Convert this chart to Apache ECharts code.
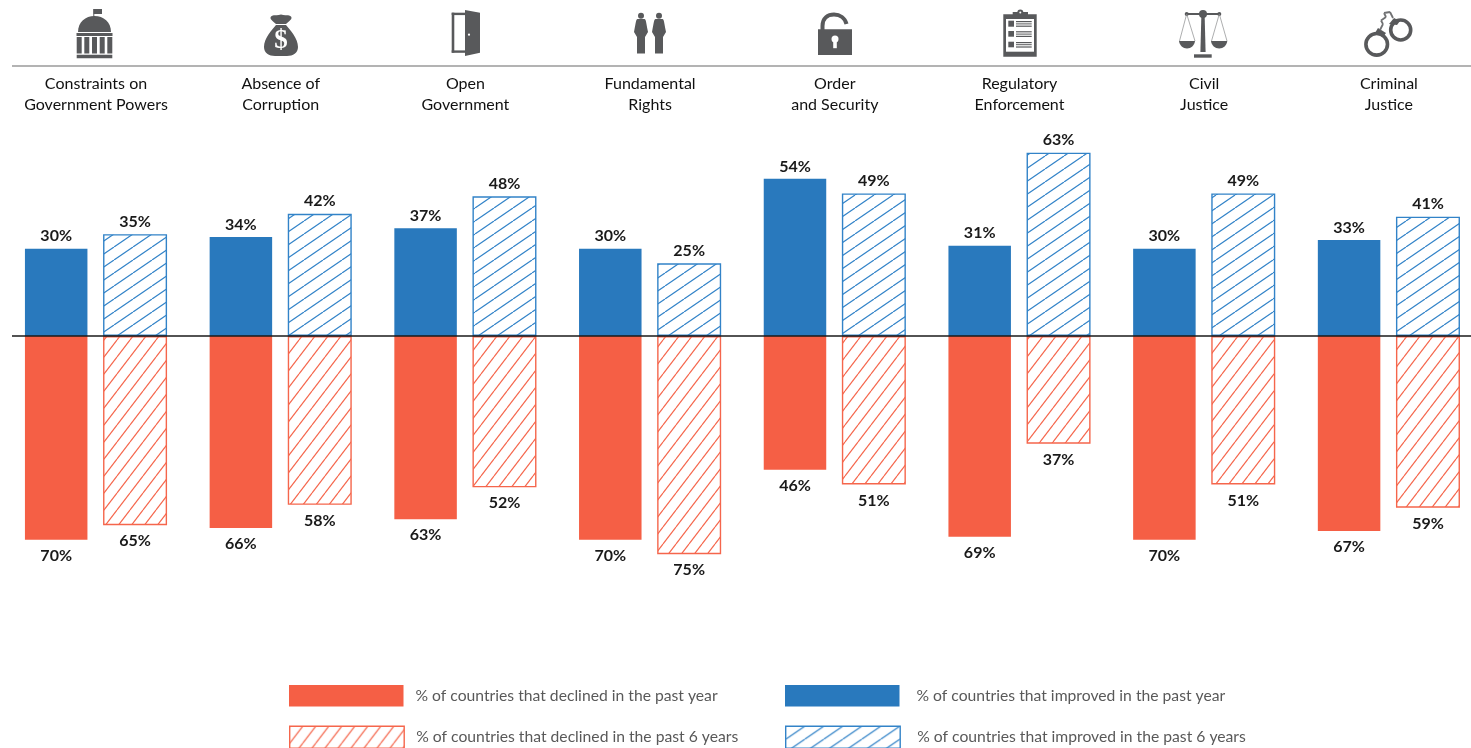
<!DOCTYPE html>
<html><head><meta charset="utf-8">
<style>html,body{margin:0;padding:0;background:#fff;overflow:hidden;width:1471px;height:748px}#c{width:1490px;height:748px}</style>
<script src="https://cdn.jsdelivr.net/npm/echarts@6/dist/echarts.min.js"></script>
</head><body><div id="c"></div>
<script>
const categories = ['Constraints on\nGovernment Powers','Absence of\nCorruption','Open\nGovernment','Fundamental\nRights','Order\nand Security','Regulatory\nEnforcement','Civil\nJustice','Criminal\nJustice'];
const improvedYear = [30,34,37,30,54,31,30,33];
const improvedSix  = [35,42,48,25,49,63,49,41];
const declinedYear = [70,66,63,70,46,69,70,67];
const declinedSix  = [65,58,52,75,51,37,51,59];
const legendNames = ['% of countries that declined in the past year','% of countries that declined in the past 6 years','% of countries that improved in the past year','% of countries that improved in the past 6 years'];

const BLUE='#2979BD', RED='#F55F45', BLUE_L='#3283C8', RED_L='#F5664C', ICON='#58595B';

function hatch(w,h,color){
  const c=document.createElement('canvas');c.width=w;c.height=h;
  const g=c.getContext('2d');g.fillStyle='#fff';g.fillRect(0,0,w,h);
  g.strokeStyle=color;g.lineWidth=1.2;
  for(const [dx,dy] of [[0,0],[-w,0],[w,0]]){g.beginPath();g.moveTo(dx,h+dy);g.lineTo(w+dx,dy);g.stroke();}
  return {image:c,repeat:'repeat'};
}
const hatchBlue=hatch(19,13,BLUE_L), hatchRed=hatch(13,17,RED_L);

const lbl=(pos)=>({show:true,position:pos,distance:pos==='top'?4.5:8,color:'#1a1a1a',fontFamily:'Lato',fontWeight:'bold',fontSize:16,formatter:p=>Math.abs(p.value)+'%'});
const neg=a=>a.map(v=>-v);
const solid=(name,data,color,stack,pos)=>({name,type:'bar',stack,data,barWidth:62.5,barGap:'25%',itemStyle:{color},label:lbl(pos)});
const hatched=(name,data,fill,line,stack,pos)=>({name,type:'bar',stack,data,barWidth:64,barGap:'25%',itemStyle:{color:fill,borderColor:line,borderWidth:1.4},label:lbl(pos)});

const series=[
  solid(legendNames[2],improvedYear,BLUE,'year','top'),
  solid(legendNames[0],neg(declinedYear),RED,'year','bottom'),
  hatched(legendNames[3],improvedSix,hatchBlue,BLUE_L,'six','top'),
  hatched(legendNames[1],neg(declinedSix),hatchRed,RED_L,'six','bottom')
];

let shapeId=0;
function reg(d){const n='iconPath'+(shapeId++);echarts.graphic.registerShape(n,echarts.graphic.extendPath(d,{}));return n;}
const P=(d)=>({type:reg(d),style:{fill:ICON}});
const S=(d,w,c)=>({type:reg(d),style:{fill:'none',stroke:c||ICON,lineWidth:w}});
const R=(x,y,w,h,f)=>({type:'rect',shape:{x,y,width:w,height:h},style:{fill:f||ICON}});
const C=(x,y,r,f)=>({type:'circle',shape:{cx:x,cy:y,r},style:{fill:f||ICON}});

const icons=[
 {x:94.5,kids:[
  R(-1.2,9,1,8),R(-1,9,8.5,5),
  P('M-16.5,32 C-16.5,22 -9,16 0,16 C9,16 16.5,22 16.5,32 Z'),
  R(-18,33,36,3),
  R(-17.8,37,5,16.5),R(-10.2,37,5,16.5),R(-2.5,37,5,16.5),R(5.2,37,5,16.5),R(12.8,37,5,16.5),
  R(-17.8,54.7,35.6,3.6)]},
 {x:281,kids:[
  P('M-5,25 C-9,30 -17,38 -17,47 C-17,53 -12,56 -6,56 L6,56 C12,56 17,53 17,47 C17,38 9,30 5,25 Z'),
  P('M-5,24 L5,24 C8,21 12,19 10,16.5 C8,14 4,16 0,14.5 C-4,16 -8,14 -10,16.5 C-12,19 -8,21 -5,24 Z'),
  {type:'text',style:{x:0,y:41,text:'$',fill:'#fff',font:'bold 27px "Liberation Serif"',textAlign:'center',textVerticalAlign:'middle'}}]},
 {x:466,kids:[
  R(-14.3,12.7,2.6,40),R(-14.3,12.7,15,2.4),R(-14.3,50.4,15,2.4),
  P('M-1,10 L14,12.7 L14,52.7 L-1,56 Z'),
  C(3,34.7,1.1,'#fff')]},
 {x:650,kids:[
  C(-9,15.7,3), C(9,15.7,3),
  P('M-12.5,19 L-5.5,19 C-4,19 -4,22 -2,32 L-5,37 L-5,53.5 L-13,53.5 L-13,37 L-16,32 C-14,22 -14,19 -12.5,19 Z'),
  P('M5.5,19 L12.5,19 C14,19 14,22 16,32 L13,37 L13,53.5 L5,53.5 L5,37 L2,32 C4,22 4,19 5.5,19 Z')]},
 {x:835,kids:[
  S('M-12.5,30 L-12.5,26 C-12.5,18 -7,14.5 -1,14.5 C5,14.5 10,18 11.5,24',4),
  R(-17,29.3,34,25.7),
  C(0,39,3.5,'#fff'),R(-1.8,40,3.6,8.2,'#fff')]},
 {x:1020,kids:[
  R(-16.7,14.3,33.4,42.4),R(-14,19,28,32.7,'#fff'),
  R(-7.3,12,15.3,6.5),C(0.3,12.5,3),C(0.3,12.5,1,'#fff'),
  R(-11.7,20.7,5.7,6),R(-11.7,31,5.7,5.7),R(-11.7,41.7,5.7,5.6),
  R(-4,21,15.7,1.2),R(-4,23.4,15.7,1),R(-4,25.6,15.7,1.2),
  R(-4,31.2,15.7,1.2),R(-4,33.6,15.7,1),R(-4,35.8,15.7,1.2),
  R(-4,42,15.7,1.2),R(-4,44.2,15.7,1),R(-4,46.4,15.7,1.2)]},
 {x:1203,kids:[
  R(-16.5,13,33,2),C(0,14,4),C(-16.3,14,2),C(16.3,14,2),
  P('M-1.6,14 L1.6,14 L2.6,52 L-2.6,52 Z'),
  R(-9,54.3,17.7,3.4),
  S('M-16.3,14 L-23.5,41 M-16.3,14 L-8,41',0.7,'#8a8b8d'),
  S('M16.3,14 L8.5,41 M16.3,14 L24,41',0.7,'#8a8b8d'),
  P('M-24,41 L-8,41 C-8.5,45.5 -12,48.5 -16,48.5 C-20,48.5 -23.5,45.5 -24,41 Z'),
  P('M8,41 L24.3,41 C23.8,45.5 20.3,48.5 16.2,48.5 C12,48.5 8.5,45.5 8,41 Z')]},
 {x:1389,kids:[
  {type:'circle',shape:{cx:-12.3,cy:44.3,r:10.8},style:{fill:'none',stroke:ICON,lineWidth:3.6}},
  {type:'circle',shape:{cx:11.7,cy:30,r:10},style:{fill:'none',stroke:ICON,lineWidth:3.6}},
  P('M-14,33 L-11,28 L-3,33 L-6,37 Z'),P('M0,24 L5,18 L11,21 L8,25 Z'),
  S('M-9,30 L-6,24 M-6,24 L-8,20.5 M-8,20.5 L-3,17 M-3,17 L-5,13 M-5,13 L1,12 M1,12 L4,18',1.8,'#707173')]}
];

const chart=echarts.init(document.getElementById('c'),null,{renderer:'canvas'});
const oneLegend=(name,left,top,h,pad)=>({orient:'vertical',left,top,padding:0,itemWidth:114.5,itemHeight:h,icon:'rect',
  itemStyle:{borderWidth:1.4},data:[name],textStyle:{fontFamily:'Lato',fontSize:15.7,color:'#595959',padding:pad}});
function draw(){
chart.setOption({
  animation:false,backgroundColor:'#fff',
  grid:{left:3.65,width:1477.6,top:117.75,height:509.25},
  legend:[
    oneLegend(legendNames[0],289,685,21.5,[0,0,0,7]),
    oneLegend(legendNames[1],289,725.5,22,[0,0,0,7]),
    oneLegend(legendNames[2],785,685,21.5,[0,0,0,12]),
    oneLegend(legendNames[3],785,725.5,22,[0,0,0,12])
  ],
  xAxis:{type:'category',position:'top',data:categories,axisLine:{show:false},axisTick:{show:false},
    axisLabel:{interval:0,margin:2,fontFamily:'Lato',fontSize:16,lineHeight:21,color:'#111',align:'center'}},
  yAxis:{type:'value',min:-100,max:75,interval:25,show:false,splitLine:{show:false}},
  series
});
const y0=chart.convertToPixel({yAxisIndex:0},0);
chart.setOption({graphic:[
  {type:'line',z:100,shape:{x1:12,y1:y0,x2:1471,y2:y0},style:{stroke:'#1a1a1a',lineWidth:1.3}},
  {type:'line',z:100,shape:{x1:12,y1:66,x2:1471,y2:66},style:{stroke:'#9a9a9a',lineWidth:1.3}},
  ...icons.map(ic=>({type:'group',x:ic.x,y:0,z:100,children:ic.kids}))
]});
}
draw();
</script></body></html>
